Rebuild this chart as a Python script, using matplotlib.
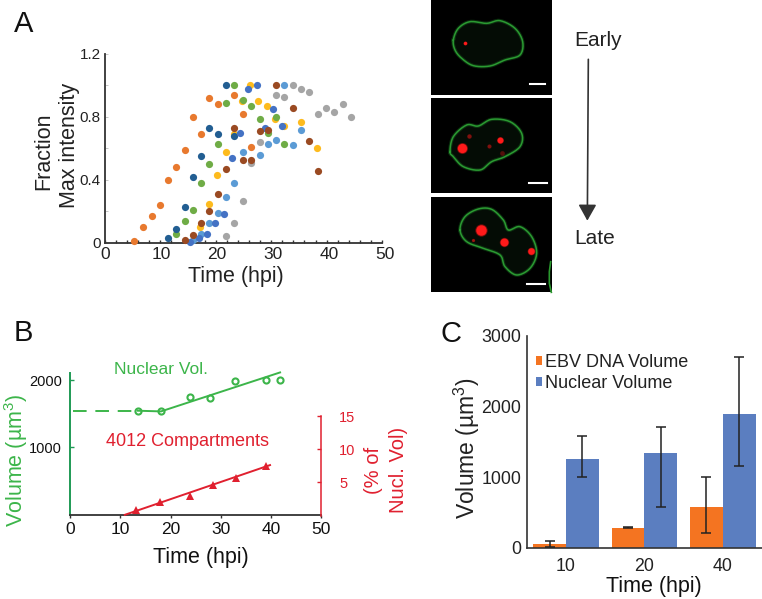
import numpy as np
import matplotlib
matplotlib.use('Agg')
import matplotlib.pyplot as plt
from matplotlib.patches import Rectangle
from matplotlib.transforms import ScaledTranslation

plt.rcParams['font.family'] = ['Liberation Sans', 'DejaVu Sans']
plt.rcParams['mathtext.fontset'] = 'custom'
plt.rcParams['mathtext.rm'] = 'Liberation Sans'

W, H = 762, 599

# panel A, one pair of lists per time course
gray_x = [21.8, 23.3, 24.9, 26.4, 27.9, 30.9, 32.4, 33.9, 35.4, 36.9, 38.4, 39.9, 41.4, 42.9, 44.4]
gray_y = [0.045, 0.13, 0.265, 0.505, 0.64, 0.94, 0.93, 1.0, 0.98, 0.96, 0.82, 0.86, 0.83, 0.88, 0.80]
yellow_x = [17.1, 18.7, 20.2, 21.8, 23.2, 24.7, 26.2, 27.7, 29.2, 30.7, 32.3, 35.4, 38.3]
yellow_y = [0.10, 0.25, 0.43, 0.58, 0.69, 0.90, 1.0, 0.90, 0.87, 0.79, 0.74, 0.77, 0.605]
ltblue_x = [15.9, 17.4, 18.8, 20.4, 21.8, 23.3, 24.9, 27.9, 29.4, 30.9, 32.4, 33.9, 35.4]
ltblue_y = [0.02, 0.055, 0.13, 0.19, 0.29, 0.38, 0.58, 0.56, 0.63, 0.655, 1.0, 0.62, 0.72]
orange_x = [5.3, 6.9, 8.4, 9.9, 11.4, 12.8, 14.4, 15.9, 17.4, 18.8, 20.4, 23.3, 24.9, 26.4]
orange_y = [0.015, 0.10, 0.17, 0.24, 0.40, 0.48, 0.59, 0.80, 0.69, 0.92, 0.88, 0.94, 0.82, 0.61]
green_x = [12.8, 14.4, 15.9, 17.4, 18.8, 20.4, 21.8, 23.3, 24.9, 26.4, 27.9, 29.4, 30.9, 32.4]
green_y = [0.06, 0.14, 0.21, 0.38, 0.50, 0.63, 0.89, 1.0, 0.91, 0.87, 0.79, 0.70, 0.80, 0.63]
navy_x = [11.4, 12.8, 14.4, 15.9, 17.4, 18.8, 20.4, 21.8, 23.3]
navy_y = [0.03, 0.09, 0.23, 0.42, 0.55, 0.73, 0.69, 1.0, 0.68]
blue_x = [15.3, 16.9, 18.4, 19.9, 21.4, 22.9, 24.4, 25.9, 27.4, 28.9, 30.4, 31.9]
blue_y = [0.005, 0.03, 0.055, 0.13, 0.186, 0.54, 0.70, 0.98, 1.0, 0.73, 0.85, 0.74]
brown_x = [14.4, 15.9, 17.4, 18.8, 20.4, 21.8, 23.3, 24.9, 26.4, 27.9, 29.4, 30.9, 33.9, 36.9, 38.4]
brown_y = [0.02, 0.05, 0.13, 0.205, 0.31, 0.47, 0.73, 0.53, 0.53, 0.71, 0.72, 1.0, 0.86, 0.65, 0.46]

# panel B
nuc_x = [13.5, 18.1, 23.9, 27.9, 32.9, 38.9, 41.8]
nuc_y = [1545, 1535, 1752, 1733, 1980, 1995, 1995]
nuc_fit_x = [13.5, 18.1, 41.8]
nuc_fit_y = [1545, 1535, 2114]
nuc_dash_x = [0.5, 13.5]
nuc_dash_y = [1545, 1545]
comp_x = [13.1, 18.0, 23.8, 28.4, 33.0, 39.0]
comp_y = [0.9, 2.1, 3.0, 4.6, 5.6, 7.5]
comp_fit_x = [10.9, 39.8]
comp_fit_y = [0.1, 7.6]

# panel C
times = ['10', '20', '40']
ebv_vol = [57, 288, 580]
ebv_lo = [10, 284, 217]
ebv_hi = [99, 292, 1009]
nuc_vol = [1264, 1340, 1900]
nuc_lo = [1000, 585, 1160]
nuc_hi = [1585, 1717, 2703]

# micrographs, outlines and spots in image pixels of each panel
cell1 = [(100, 120), (115, 85), (150, 65), (200, 70), (240, 62), (285, 85), (308, 125), (300, 165),
         (255, 180), (210, 198), (160, 197), (125, 175), (105, 150)]
cell2 = [(90, 455), (100, 410), (140, 375), (175, 378), (215, 358), (270, 365), (305, 400), (300, 440),
         (255, 470), (215, 485), (180, 510), (130, 500), (100, 470)]
cell3 = [(120, 690), (135, 650), (175, 627), (215, 628), (250, 660), (265, 690), (300, 680), (335, 710),
         (350, 760), (330, 805), (290, 825), (255, 800), (240, 765), (190, 745), (140, 725)]
spots = [(134, 130, 20, 1.0), (127, 443, 150, 1.0), (240, 420, 60, 1.0), (148, 408, 30, 0.4),
         (208, 438, 25, 0.4), (245, 460, 35, 0.25), (183, 690, 190, 1.0), (253, 727, 110, 1.0),
         (332, 752, 75, 1.0), (160, 720, 15, 0.5)]
bars = [(330, 375, 252), (326, 380, 548), (322, 374, 851)]
frames = [(33, 397, 0, 285), (33, 397, 295, 580), (33, 397, 590, 877)]

dark = '#333333'
green = '#3cb54a'
red = '#e0202f'


def px_axes(fig, left, top, right, bottom):
    return fig.add_axes([left / W, 1 - bottom / H, (right - left) / W, (bottom - top) / H])


def smooth(pts):
    # closed catmull-rom through the outline points
    p = np.array(pts, float)
    n = len(p)
    out = []
    for i in range(n):
        p0, p1, p2, p3 = p[i - 1], p[i], p[(i + 1) % n], p[(i + 2) % n]
        for t in np.linspace(0, 1, 12, endpoint=False):
            out.append(0.5 * (2 * p1 + (p2 - p0) * t + (2 * p0 - 5 * p1 + 4 * p2 - p3) * t ** 2
                              + (3 * p1 - p0 - 3 * p2 + p3) * t ** 3))
    out.append(out[0])
    return np.array(out)


fig = plt.figure(figsize=(W / 100, H / 100), dpi=100)

# overlay for free labels, in pixels
bg = fig.add_axes([0, 0, 1, 1])
bg.set_xlim(0, W)
bg.set_ylim(H, 0)
bg.axis('off')
bg.text(14, 24, 'A', fontsize=21, ha='left', va='center', color='#111111')
bg.text(14, 333, 'B', fontsize=21, ha='left', va='center', color='#111111')
bg.text(440, 334, 'C', fontsize=21, ha='left', va='center', color='#111111')

# ---- A
ax = px_axes(fig, 105, 54, 382, 243)
ax.patch.set_alpha(0)
series = [(gray_x, gray_y, '#a5a5a5'), (yellow_x, yellow_y, '#fdbb1e'), (ltblue_x, ltblue_y, '#5b9bd5'),
          (orange_x, orange_y, '#e8792e'), (green_x, green_y, '#6fac46'), (navy_x, navy_y, '#225e92'),
          (blue_x, blue_y, '#4472c4'), (brown_x, brown_y, '#9a4a22')]
for sx, sy, c in series:
    ax.scatter(sx, sy, s=27, color=c, linewidths=0, clip_on=False, zorder=3)
ax.set_xlim(0, 50)
ax.set_ylim(0, 1.2)
ax.spines[['top', 'right']].set_visible(False)
ax.spines[['left', 'bottom']].set_linewidth(1.3)
ax.spines[['left', 'bottom']].set_color(dark)
ax.set_xticks([0, 10, 20, 30, 40, 50])
ax.set_xticks(np.arange(0, 51, 2), minor=True)
ax.set_yticks([0, 0.4, 0.8, 1.2], ['0', '0.4', '0.8', '1.2'])
ax.set_yticks([0.2, 0.6, 1.0], minor=True)
ax.tick_params(axis='x', which='both', direction='in', length=2, width=1, color=dark, labelsize=12.5,
               labelcolor='#222222', pad=3)
ax.tick_params(axis='y', which='both', direction='in', length=2, width=0.6, color='#bbbbbb', labelsize=11,
               labelcolor='#222222', pad=3)
# the printed labels sit a little wider apart than the ticks
for i, t in enumerate(ax.get_xticklabels()):
    t.set_transform(t.get_transform() + ScaledTranslation(i * 0.6 / 100, 0, fig.dpi_scale_trans))
ax.set_xlabel('Time (hpi)', fontsize=15.5, labelpad=3, color='#222222', x=0.473)
bg.text(44, 151, 'Fraction', rotation=90, fontsize=15.5, ha='center', va='center', color='#222222')
bg.text(69, 145, 'Max intensity', rotation=90, fontsize=15.5, ha='center', va='center', color='#222222')

# ---- micrographs, crop coordinates map to px by x/3 + 420 and y/3
im = fig.add_axes([0, 0, 1, 1])
im.set_xlim(-420 * 3, (W - 420) * 3)
im.set_ylim(H * 3, 0)
im.axis('off')
for x0, x1, y0, y1 in frames:
    im.add_patch(Rectangle((x0, y0), x1 - x0, y1 - y0, color='black', lw=0, zorder=1))
for cell in (cell1, cell2, cell3):
    line = smooth(cell)
    im.fill(line[:, 0], line[:, 1], color='#040c05', lw=0, zorder=2)
    im.plot(line[:, 0], line[:, 1], color='#1c7a24', lw=2.6, alpha=0.35, zorder=3)
    im.plot(line[:, 0], line[:, 1], color='#2b9a32', lw=1.1, zorder=4)
im.plot([392, 388, 388, 394], [785, 815, 850, 877], color='#2a9a2e', lw=1.2, zorder=3)
for sx, sy, area, a in spots:
    im.scatter(sx, sy, s=area * 0.42, color='#d01010', alpha=a * 0.5, linewidths=0, zorder=5)
    im.scatter(sx, sy, s=area * 0.3, color='#ff1a1a', alpha=a, linewidths=0, zorder=5)
for x0, x1, y in bars:
    im.plot([x0, x1], [y, y], color='white', lw=1.5, zorder=6)
im.annotate('', xy=(502, 662), xytext=(505, 178),
            arrowprops=dict(arrowstyle='-|>,head_width=0.42,head_length=0.75', color=dark, lw=1.2,
                            mutation_scale=13, shrinkA=0, shrinkB=0))
im.text(464, 120, 'Early', fontsize=15, va='center', ha='left', color='#222222')
im.text(464, 715, 'Late', fontsize=15, va='center', ha='left', color='#222222')

# ---- B
ax = px_axes(fig, 70, 372.7, 321.3, 514.7)
ax.patch.set_alpha(0)
ax.set_xlim(0, 50)
ax.set_ylim(0, 2110)
ax.plot(nuc_dash_x, nuc_dash_y, color=green, lw=1.4, dashes=(7, 4.5))
ax.plot(nuc_fit_x, nuc_fit_y, color=green, lw=1.4, clip_on=False)
ax.plot(nuc_x, nuc_y, 'o', mfc='none', mec=green, mew=1.5, ms=4.4, ls='none', clip_on=False)
ax.spines[['top', 'right']].set_visible(False)
ax.spines['left'].set_color('#1f9a55')
ax.spines['left'].set_linewidth(1.4)
ax.spines['bottom'].set_color(dark)
ax.spines['bottom'].set_linewidth(1.3)
ax.set_xticks([0, 10, 20, 30, 40, 50])
ax.set_yticks([1000, 2000])
ax.tick_params(axis='x', direction='out', length=2.5, width=1, color=dark, labelsize=12.5, labelcolor='#111111', pad=3)
ax.tick_params(axis='y', direction='in', length=3, width=1, color='#1f9a55', labelsize=10.5, labelcolor='#111111', pad=6)
ax.set_xlabel('Time (hpi)', fontsize=15.5, labelpad=7, color='#111111', x=0.52)
bg.text(16, 460, 'Volume (µm$^{3}$)', rotation=90, fontsize=15.5, ha='center', va='center', color=green)
bg.text(161, 369, 'Nuclear Vol.', fontsize=12.5, ha='center', va='center', color=green)
bg.text(188, 442, '4012 Compartments', fontsize=13, ha='center', va='center', color=red)

rax = px_axes(fig, 70, 416, 321.3, 515.5)
rax.patch.set_alpha(0)
rax.set_xlim(0, 50)
rax.set_ylim(0, 15)
rax.plot(comp_fit_x, comp_fit_y, color=red, lw=1.4)
rax.plot(comp_x, comp_y, '^', color=red, ms=5.5, ls='none', mew=0, clip_on=False)
rax.spines[['top', 'left', 'bottom']].set_visible(False)
rax.spines['right'].set_color(red)
rax.spines['right'].set_linewidth(1.1)
rax.yaxis.tick_right()
rax.set_xticks([])
rax.set_yticks([5, 10, 15])
rax.tick_params(axis='y', direction='in', length=3, width=1, color=red, labelsize=10.5, labelcolor=red, pad=13)
bg.text(386, 470, '(% of\nNucl. Vol)', rotation=90, fontsize=14.5, ha='center', va='center', color=red,
        linespacing=1.35, multialignment='center')

# ---- C
ax = px_axes(fig, 526.7, 336, 762, 548)
ax.patch.set_alpha(0)
x = np.arange(len(times))
w = 0.418
ax.bar(x - w / 2, ebv_vol, w, color='#f47421', label='EBV DNA Volume')
ax.bar(x + w / 2, nuc_vol, w, color='#5b7ec0', label='Nuclear Volume')
for xs, v, lo, hi in ((x - w / 2, ebv_vol, ebv_lo, ebv_hi), (x + w / 2, nuc_vol, nuc_lo, nuc_hi)):
    ax.errorbar(xs, v, yerr=[np.array(v) - np.array(lo), np.array(hi) - np.array(v)], fmt='none',
                ecolor='#222222', elinewidth=1.1, capsize=3.6, capthick=1.1, zorder=5)
ax.set_xlim(-0.5, 2.5)
ax.set_ylim(0, 3000)
ax.spines[['top', 'right']].set_visible(False)
ax.spines[['left', 'bottom']].set_color(dark)
ax.spines[['left', 'bottom']].set_linewidth(1.2)
ax.set_xticks(x, times)
ax.set_yticks([0, 1000, 2000, 3000])
ax.tick_params(axis='both', length=0, labelsize=12.8, labelcolor='#222222')
ax.tick_params(axis='x', pad=7)
ax.tick_params(axis='y', pad=4)
ax.set_xlabel('Time (hpi)', fontsize=15.5, labelpad=1, color='#111111', x=0.541)
bg.text(467, 448, 'Volume (µm$^{3}$)', rotation=90, fontsize=16.5, ha='center', va='center', color='#222222')
ax.legend(loc='upper left', bbox_to_anchor=(0.04, 0.915), frameon=False, fontsize=13, handlelength=0.32,
          handleheight=0.4, handletextpad=0.15, labelspacing=0.2, borderpad=0, borderaxespad=0,
          labelcolor='#222222')

fig.savefig('out.png', dpi=100)
